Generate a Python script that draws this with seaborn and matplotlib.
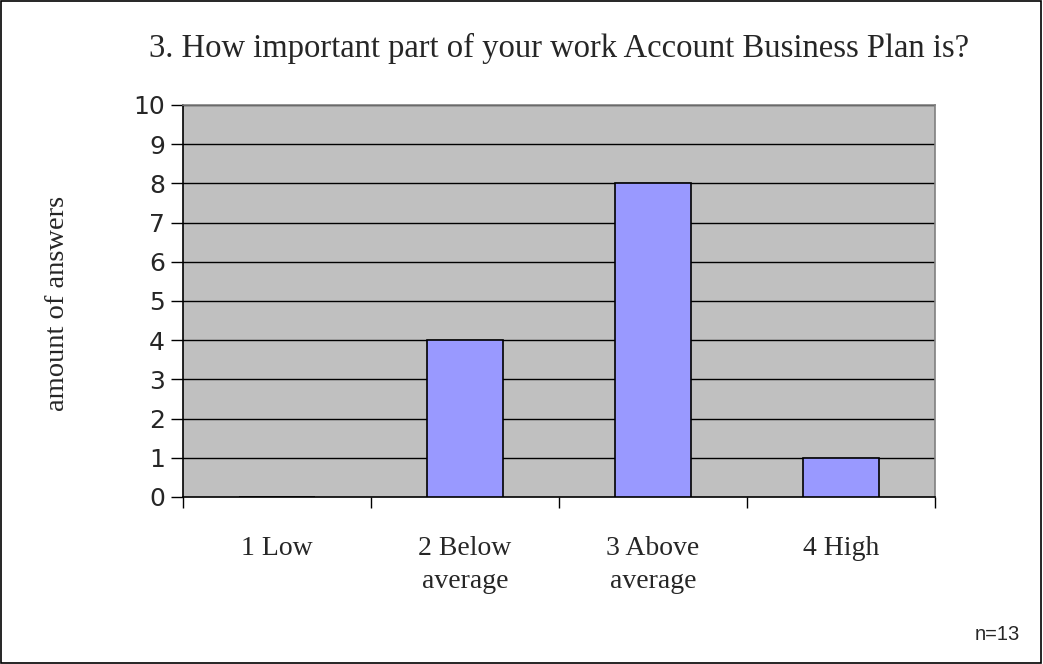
import matplotlib
matplotlib.use("Agg")
import matplotlib.pyplot as plt
import seaborn as sns
from matplotlib.patches import Rectangle

categories = ["1 Low", "2 Below\naverage", "3 Above\naverage", "4 High"]
values = [0, 4, 8, 1]
y_ticks = list(range(0, 11))
title = "3. How important part of your work Account Business Plan is?"
ylabel = "amount of answers"
note = "n=13"

sns.set_theme(style="white")
plt.rcParams["font.family"] = ["Liberation Serif", "DejaVu Serif"]

fig = plt.figure(figsize=(10.43, 6.64), dpi=100)
ax = fig.add_axes([183/1043, 1-497/664, (935-183)/1043, (497-105)/664])
ax.set_facecolor("#C0C0C0")

sns.barplot(x=categories, y=values, order=categories, color="#9999FF",
            saturation=1, width=0.4, edgecolor="black", linewidth=1.2, ax=ax, zorder=3)

ax.set_ylim(0, 10)
ax.set_xlim(-0.5, len(categories) - 0.5)
ax.set_yticks(y_ticks)
ax.set_yticklabels([str(t) for t in y_ticks], family="DejaVu Sans", fontsize=18)
for t in y_ticks[1:]:
    ax.axhline(t, color="black", linewidth=1.0, zorder=1)

ax.set_xticks(range(len(categories)))
ax.set_xticklabels(categories, fontsize=20, linespacing=1.45)
ax.tick_params(axis="x", which="major", length=0, pad=28)
ax.set_xticks([i - 0.5 for i in range(len(categories) + 1)], minor=True)
ax.tick_params(axis="x", which="minor", length=8, width=1, color="black", direction="out", bottom=True)
ax.tick_params(axis="y", length=9, width=1, color="black", direction="out", left=True, pad=4)

for s in ["left", "bottom"]:
    ax.spines[s].set_color("black")
    ax.spines[s].set_linewidth(1.2)
for s in ["top", "right"]:
    ax.spines[s].set_color("#808080")
    ax.spines[s].set_linewidth(1.2)
ax.set_xlabel("")
ax.set_ylabel("")

fig.text(559/1043, 1-48/664, title, ha="center", va="center", fontsize=23.5)
fig.text(58/1043, 1-303/664, ylabel, ha="center", va="center", rotation=90, fontsize=20.5)
fig.text(997/1043, 1-634/664, note, ha="center", va="center", fontsize=14.5, family="Liberation Sans")

fig.patches.append(Rectangle((0.0005, 0.0008), 0.998, 0.998, transform=fig.transFigure,
                             fill=False, edgecolor="black", linewidth=1.2))

fig.savefig("out.png", dpi=100)
